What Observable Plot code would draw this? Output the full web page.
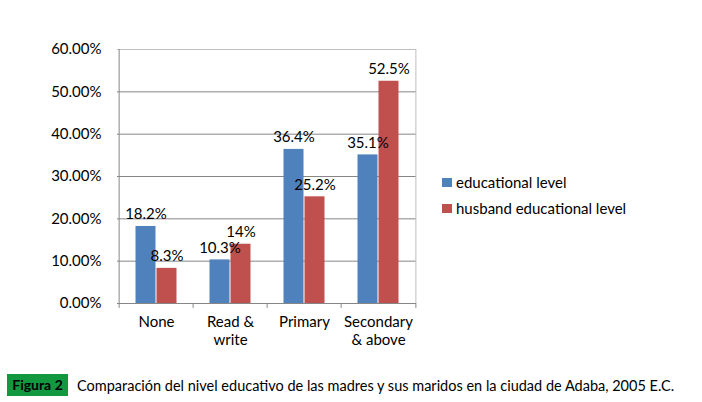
<!DOCTYPE html>
<html>
<head>
<meta charset="utf-8">
<script src="https://cdn.jsdelivr.net/npm/d3@7"></script>
<script src="https://cdn.jsdelivr.net/npm/@observablehq/plot@0.6"></script>
<style>
  html, body { margin: 0; padding: 0; background: #fff; }
  #wrap { position: relative; width: 702px; height: 402px; font-family: Lato, "Open Sans", sans-serif; }
  #chart { position: absolute; left: 0; top: 0; }
  #legend { position: absolute; left: 442px; top: 169px; font-size: 15px; color: #000; }
  .li { display: flex; align-items: center; height: 26px; }
  .sw { width: 10px; height: 9px; margin-right: 4px; }
  #caption { position: absolute; left: 7px; top: 374px; display: flex; align-items: center; font-size: 14.5px; }
  #caption .fig { background: #12993f; color: #000; font-weight: bold; font-size: 14px; width: 61px; text-align: center; height: 22px; line-height: 22px; margin-right: 9px; }
</style>
</head>
<body>
<div id="wrap">
  <div id="chart"></div>
  <div id="legend"></div>
  <div id="caption"><span class="fig">Figura 2</span><span class="cap">Comparación del nivel educativo de las madres y sus maridos en la ciudad de Adaba, 2005 E.C.</span></div>
</div>
<script>
const categories = ["None", "Read & write", "Primary", "Secondary & above"];
const categoryLabels = ["None", "Read &\nwrite", "Primary", "Secondary\n& above"];
const seriesNames = ["educational level", "husband educational level"];
const eduValues = [18.2, 10.3, 36.4, 35.1];
const husbandValues = [8.3, 14, 25.2, 52.5];
const yTicks = [0, 10, 20, 30, 40, 50, 60];
const colors = ["#4F81BD", "#C0504D"];

const eduRows = categories.map((c, i) => ({category: c, series: seriesNames[0], value: eduValues[i]}));
const husRows = categories.map((c, i) => ({category: c, series: seriesNames[1], value: husbandValues[i]}));
const gridTicks = yTicks.filter(t => t > 0 && t < 60);
const half = (702 - 117 - 286) / categories.length / 2;

const chart = Plot.plot({
  width: 702,
  height: 362,
  marginLeft: 117,
  marginRight: 286,
  marginTop: 49,
  marginBottom: 59,
  style: {fontFamily: "Lato, 'Open Sans', sans-serif", fontSize: "15px", color: "#000", background: "transparent"},
  x: {type: "band", domain: categories, padding: 0, label: null},
  y: {domain: [0, 60], label: null},
  color: {domain: seriesNames, range: colors},
  marks: [
    Plot.ruleY(gridTicks, {stroke: "#868686", strokeWidth: 1}),
    Plot.ruleY([60], {stroke: "#BFBFBF", strokeWidth: 1}),
    Plot.ruleX([categories[categories.length - 1]], {dx: half, y1: 0, y2: 60, stroke: "#BFBFBF"}),
    Plot.barY(eduRows, {x: "category", y: "value", fill: "series", insetLeft: 16.5, insetRight: 37.5}),
    Plot.barY(husRows, {x: "category", y: "value", fill: "series", insetLeft: 37.5, insetRight: 16.5}),
    Plot.text(eduRows, {x: "category", y: "value", text: d => d.value + "%", dx: -10.5, dy: -7, lineAnchor: "bottom", fontSize: 15, fill: "#000"}),
    Plot.text(husRows, {x: "category", y: "value", text: d => d.value + "%", dx: 10.5, dy: -7, lineAnchor: "bottom", fontSize: 15, fill: "#000"}),
    Plot.ruleY([0], {stroke: "#868686", strokeWidth: 1}),
    Plot.ruleX([categories[0]], {dx: -half, y1: 0, y2: 60, stroke: "#868686"}),
    Plot.ruleX(categories, {dx: -half, y1: 0, y2: -1.15, stroke: "#868686"}),
    Plot.ruleX([categories[categories.length - 1]], {dx: half, y1: 0, y2: -1.15, stroke: "#868686"}),
    Plot.axisY({ticks: yTicks, tickSize: 0, tickPadding: 16, tickFormat: d => d.toFixed(2) + "%", fontSize: 15}),
    Plot.axisX({tickSize: 0, tickPadding: 11, tickFormat: d => categoryLabels[categories.indexOf(d)], fontSize: 15, lineHeight: 1.2})
  ]
});
document.getElementById("chart").appendChild(chart);

const legend = document.getElementById("legend");
seriesNames.forEach((s, i) => {
  const row = document.createElement("div");
  row.className = "li";
  const sw = document.createElement("span");
  sw.className = "sw";
  sw.style.background = colors[i];
  const t = document.createElement("span");
  t.textContent = s;
  row.appendChild(sw);
  row.appendChild(t);
  legend.appendChild(row);
});
</script>
</body>
</html>
